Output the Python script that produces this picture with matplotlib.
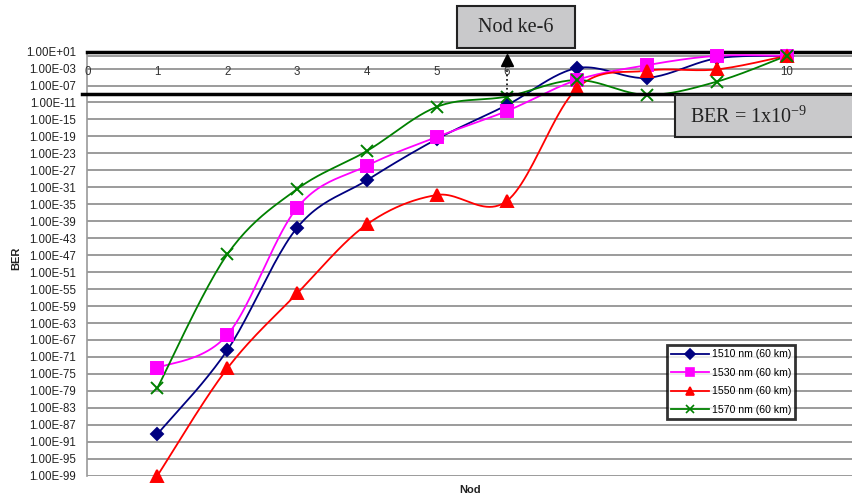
import numpy as np
import matplotlib
matplotlib.use('Agg')
import matplotlib.pyplot as plt
from matplotlib.patches import Rectangle
from matplotlib.lines import Line2D

plt.rcParams['font.family'] = ['Liberation Sans', 'DejaVu Sans']
plt.rcParams['mathtext.fontset'] = 'custom'
plt.rcParams['mathtext.rm'] = 'Liberation Serif'
plt.rcParams['mathtext.default'] = 'rm'

# data (log10 of BER)
nodes = [1, 2, 3, 4, 5, 6, 7, 8, 9, 10]
ber_1510 = [-89.2, -69.4, -40.5, -29.3, -19.6, -11.6, -2.9, -5.2, -0.6, 0.0]
ber_1530 = [-73.6, -65.8, -35.8, -25.9, -19.1, -13.0, -5.7, -2.2, 0.0, 0.0]
ber_1550 = [-99.0, -73.7, -56.0, -39.7, -32.8, -34.2, -7.7, -3.5, -3.2, 0.0]
ber_1570 = [-78.3, -46.8, -31.4, -22.4, -12.0, -9.6, -5.7, -9.2, -6.1, 0.0]
labels = ['1510 nm (60 km)', '1530 nm (60 km)', '1550 nm (60 km)', '1570 nm (60 km)']
colors = ['#000080', '#FF00FF', '#FF0000', '#008000']
markers = ['D', 's', '^', 'x']
msizes = [6, 8, 9, 9]
ytick_exp = list(range(1, -100, -4))


def smooth(x, ly, n=25, sx=70.0, sy=4.24):
    # Excel-style smoothed line (bezier through the points), in screen-like units
    pts = np.c_[np.asarray(x, float) * sx, np.asarray(ly, float) * sy]
    out = []
    t = np.linspace(0, 1, n)[:, None]
    for i in range(len(pts) - 1):
        p0 = pts[max(i - 1, 0)]
        p1 = pts[i]
        p2 = pts[i + 1]
        p3 = pts[min(i + 2, len(pts) - 1)]
        c1 = p1 + (p2 - p0) / 6
        c2 = p2 - (p3 - p1) / 6
        seg = (1 - t)**3 * p1 + 3 * (1 - t)**2 * t * c1 + 3 * (1 - t) * t**2 * c2 + t**3 * p2
        out.append(seg if i == 0 else seg[1:])
    out = np.vstack(out)
    return out[:, 0] / sx, 10 ** (out[:, 1] / sy)


W, H = 853, 499
fig = plt.figure(figsize=(W / 100, H / 100), dpi=100)
ax = fig.add_axes([87.5 / W, 1 - 475.7 / H, (W - 87.5) / W, (475.7 - 51.6) / H])
ax.set_yscale('log')
ax.set_ylim(1e-99, 1e1)
ax.set_xlim(0, 10.95)

# grid
for e in ytick_exp:
    ax.axhline(10.0 ** e, color='#808080', lw=1.1, zorder=1)
ax.axhline(1.0, color='#808080', lw=1.1, zorder=1)

ax.set_yticks([10.0 ** e for e in ytick_exp])
ax.set_yticklabels(['1.00E%+03d' % e if e >= 0 else '1.00E-%02d' % -e for e in ytick_exp])
ax.yaxis.set_minor_locator(matplotlib.ticker.NullLocator())
ax.tick_params(axis='y', length=0, pad=8, labelsize=8.3, labelcolor='#222222')
ax.set_xticks([])

for s in ['right', 'bottom']:
    ax.spines[s].set_visible(False)
ax.spines['left'].set_color('#999999')
ax.spines['left'].set_linewidth(1.2)
ax.spines['top'].set_color('black')
ax.spines['top'].set_linewidth(2.5)

# x tick labels below the category axis
for i in range(0, 11):
    ax.text(i, 10 ** -3.75, str(i), ha='center', va='center', fontsize=8.3, color='#333333')

series = [ber_1510, ber_1530, ber_1550, ber_1570]
handles = []
for ly, lab, c, m, ms in zip(series, labels, colors, markers, msizes):
    sx_, sy_ = smooth(nodes, ly)
    ax.plot(sx_, sy_, color=c, lw=1.3, zorder=3, clip_on=False)
    ax.plot(nodes, 10.0 ** np.array(ly), ls='none', marker=m, ms=ms, color=c,
            mew=1.4, zorder=4, clip_on=False)
    handles.append(Line2D([], [], color=c, lw=1.3, marker=m, ms=5.5, mew=1.2, label=lab))

# BER = 1e-9 threshold line
ax.plot([-0.08, 10.95], [1e-9, 1e-9], color='black', lw=2.5, zorder=5, clip_on=False)

# arrow at node 6
ax.plot([6, 6], [1e-9, 10 ** -1.5], ls=':', color='black', lw=1.2, zorder=5)
ax.plot(6, 10 ** -1.0, marker='^', ms=9, color='black', zorder=6, clip_on=False)

leg = ax.legend(handles=handles, loc='upper left', bbox_to_anchor=(0.7568, 0.3078),
                fontsize=7.6, frameon=True, fancybox=False, handlelength=3.6,
                handletextpad=0.25, borderpad=0.4, labelspacing=0.8, borderaxespad=0)
leg.get_frame().set_edgecolor('black')
leg.get_frame().set_linewidth(2)
leg.set_zorder(10)

# annotation boxes
fig.patches.append(Rectangle((457.3 / W, 1 - 47.7 / H), 117.7 / W, 41.7 / H,
                             transform=fig.transFigure, facecolor='#c9c9cb',
                             edgecolor='#222222', lw=1.5, zorder=20))
fig.text(516 / W, 1 - 27 / H, 'Nod ke-6', ha='center', va='center', fontsize=14.5,
         family='Liberation Serif', color='#222222', zorder=21)
fig.patches.append(Rectangle((675 / W, 1 - 136.7 / H), 180 / W, 41.7 / H,
                             transform=fig.transFigure, facecolor='#c9c9cb',
                             edgecolor='#222222', lw=1.5, zorder=20))
fig.text(690 / W, 1 - 117 / H, 'BER = 1x10$^{-9}$', ha='left', va='center', fontsize=14.5,
         family='Liberation Serif', color='#222222', zorder=21)

fig.text(16 / W, 1 - 258 / H, 'BER', rotation=90, ha='center', va='center',
         fontsize=8, fontweight='bold', color='#222222')
fig.text(470 / W, 1 - 490 / H, 'Nod', ha='center', va='center',
         fontsize=8, fontweight='bold', color='#222222')

fig.savefig('out.png', dpi=100)
